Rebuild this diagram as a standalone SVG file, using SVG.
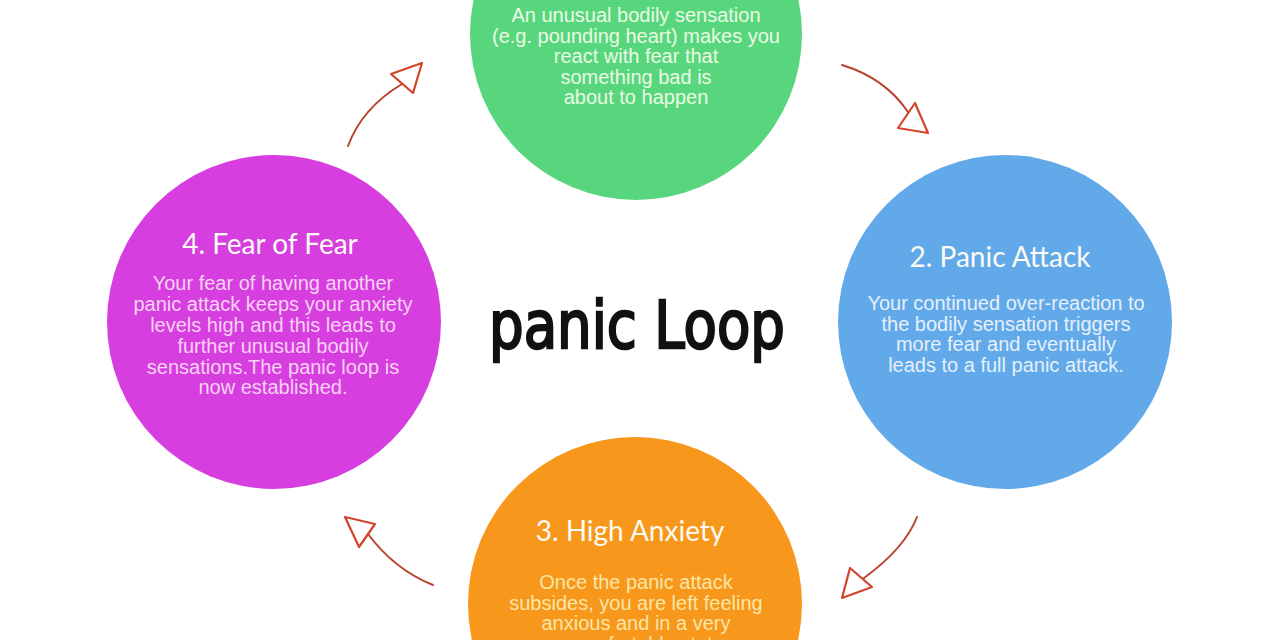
<svg xmlns="http://www.w3.org/2000/svg" width="1280" height="640" viewBox="0 0 1280 640">
<style>
.title{font-family:Lato,"Noto Sans",sans-serif;font-size:28px;text-anchor:middle;fill:#fbfbf4}
.body{font-family:"Liberation Sans",Arial,sans-serif;font-size:20px;text-anchor:middle}
.arrow{fill:none;stroke:#b8432d;stroke-width:2;stroke-linecap:round;stroke-linejoin:round}
.head{fill:none;stroke:#d2452b;stroke-width:2.2;stroke-linejoin:round}
.hand{font-family:"DejaVu Sans",Lato,sans-serif;font-size:66px;fill:#111;stroke:#111;stroke-width:2.5;text-anchor:middle}
</style>
<rect width="1280" height="640" fill="#ffffff"/>
<g id="node1">
<circle cx="636" cy="34" r="166" fill="#58d67e"/>
<text class="body" fill="#eafbe2"><tspan x="636" y="22">An unusual bodily sensation</tspan><tspan x="636" y="43">(e.g. pounding heart) makes you</tspan><tspan x="636" y="63">react with fear that</tspan><tspan x="636" y="84">something bad is</tspan><tspan x="636" y="104">about to happen</tspan></text>
</g>
<g id="node2">
<circle cx="1005" cy="322" r="167" fill="#62a9ea"/>
<text class="title" x="1000" y="267">2. Panic Attack</text>
<text class="body" fill="#e6f0fa"><tspan x="1006" y="310">Your continued over-reaction to</tspan><tspan x="1006" y="331">the bodily sensation triggers</tspan><tspan x="1006" y="351">more fear and eventually</tspan><tspan x="1006" y="372">leads to a full panic attack.</tspan></text>
</g>
<g id="node3">
<circle cx="635" cy="604" r="167" fill="#f7971c"/>
<text class="title" x="630" y="541">3. High Anxiety</text>
<text class="body" fill="#fce6a6"><tspan x="636" y="589">Once the panic attack</tspan><tspan x="636" y="610">subsides, you are left feeling</tspan><tspan x="636" y="630">anxious and in a very</tspan><tspan x="636" y="651">uncomfortable state</tspan></text>
</g>
<g id="node4">
<circle cx="274" cy="322" r="167" fill="#d63ee0"/>
<text class="title" x="270" y="254">4. Fear of Fear</text>
<text class="body" fill="#f8d2f4"><tspan x="273" y="290">Your fear of having another</tspan><tspan x="273" y="311">panic attack keeps your anxiety</tspan><tspan x="273" y="332">levels high and this leads to</tspan><tspan x="273" y="353">further unusual bodily</tspan><tspan x="273" y="374">sensations.The panic loop is</tspan><tspan x="273" y="394">now established.</tspan></text>
</g>
<g id="center-label">
<text class="hand" x="637" y="348" textLength="296" lengthAdjust="spacingAndGlyphs">panic Loop</text>
</g>
<g id="connectors">
<path class="arrow" d="M348 146 Q362 108 402 84"/>
<polygon class="head" points="391,74 422,63 413,93"/>
<path class="arrow" d="M842 65 Q885 78 908 112"/>
<polygon class="head" points="915,103 898,128 928,133"/>
<path class="arrow" d="M917 517 Q905 548 864 578"/>
<polygon class="head" points="850,568 842,598 872,587"/>
<path class="arrow" d="M433 585 Q395 570 368 534"/>
<polygon class="head" points="345,517 375,524 359,547"/>
</g>
</svg>
